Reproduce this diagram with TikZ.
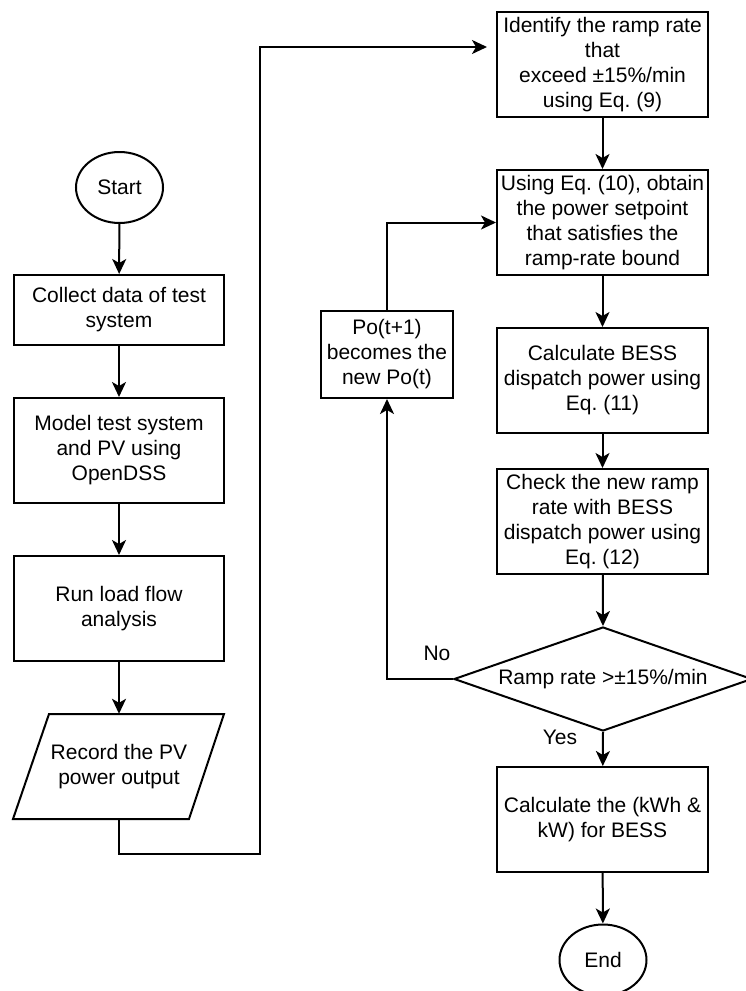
\documentclass[tikz,border=0pt]{standalone}
\usepackage{fontspec}
\setmainfont{Liberation Sans}
\usetikzlibrary{shapes.geometric,arrows.meta}
\frenchspacing
\begin{document}
\begin{tikzpicture}[x=1pt,y=-1pt,
  every node/.style={font=\fontsize{21}{25}\selectfont, align=center, inner sep=0pt},
  procbox/.style={draw, line width=2pt, rectangle, minimum width=211pt, minimum height=105pt},
  terminal/.style={draw, line width=2pt, ellipse, minimum width=87pt, minimum height=71pt},
  decision/.style={draw, line width=2pt, diamond, aspect=2.865, minimum width=298pt, minimum height=104pt},
  arr/.style={line width=2pt, -{Stealth[length=15pt,width=14pt,inset=4pt]}}]
\useasboundingbox (0,0) rectangle (746,991);

% left column
\node[terminal] (start) at (119.5,187.5) {Start};
\node[procbox, minimum width=210pt, minimum height=70pt] (collect) at (119,310) {Collect data of test\\system};
\node[procbox, minimum width=210pt] (model) at (119,450.5) {Model test system\\and PV using\\OpenDSS};
\node[procbox, minimum width=210pt] (run) at (119,608.5) {Run load flow\\analysis};
% input/output parallelogram
\draw[line width=2pt] (49,714) -- (224,714) -- (189,819) -- (13,819) -- cycle;
\node[minimum height=105pt] (record) at (119,766.5) {Record the PV\\power output};

% right column
\node[procbox] (identify) at (602.5,64.5) {Identify the ramp rate\\that\\exceed \char"00B1 15\%/min\\using Eq. (9)};
\node[procbox] (using) at (602.5,222.5) {Using Eq. (10), obtain\\the power setpoint\\that satisfies the\\ramp-rate bound};
\node[procbox] (calc) at (602.5,380.5) {Calculate BESS\\dispatch power using\\Eq. (11)};
\node[procbox] (check) at (602.5,521.5) {Check the new ramp\\rate with BESS\\dispatch power using\\Eq. (12)};
\node[decision] (dec) at (603,679) {Ramp rate >\char"00B1 15\%/min};
\node[procbox] (final) at (602.5,819.5) {Calculate the (kWh \&\\kW) for BESS};
\node[terminal] (end) at (603,960) {End};

% feedback box
\node[procbox, minimum width=132pt, minimum height=87pt] (po) at (387,354.5) {Po(t+1)\\becomes the\\new Po(t)};

% labels
\node (no) at (437,653) {No};
\node (yes) at (560,737) {Yes};

% connectors, left column
\draw[arr] (start) -- (collect);
\draw[arr] (collect) -- (model);
\draw[arr] (model) -- (run);
\draw[arr] (run) -- (record.north);
\coordinate (c1) at (259.5,854);
\coordinate (c2) at (259.5,47);
\draw[arr, shorten >=9pt] (record.south) |- (c1) -- (c2) -- (c2 -| identify.west);

% connectors, right column
\draw[arr] (identify) -- (using);
\draw[arr] (using) -- (calc);
\draw[arr] (calc) -- (check);
\draw[arr] (check) -- (dec.north);
\draw[arr] (dec.south) -- (final);
\draw[arr] (final) -- (end);

% loop back
\draw[arr] (dec.west) -| (po.south);
\draw[arr] (po.north) |- (using.west);
\end{tikzpicture}
\end{document}
